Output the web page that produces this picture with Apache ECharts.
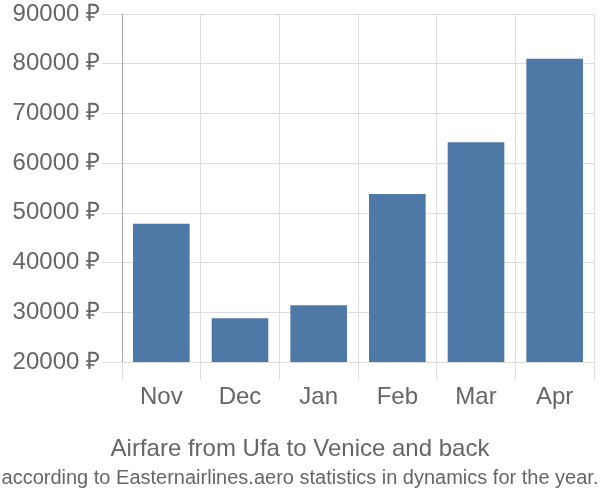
<!DOCTYPE html>
<html>
<head>
<meta charset="utf-8">
<script src="https://cdn.jsdelivr.net/npm/echarts@6/dist/echarts.min.js"></script>
<style>html,body{margin:0;padding:0;background:#fff}#c{width:600px;height:500px}</style>
</head>
<body>
<div id="c"></div>
<script>
var months = ['Nov', 'Dec', 'Jan', 'Feb', 'Mar', 'Apr'];
var prices = [47800, 28800, 31400, 53800, 64200, 81000];
var yMin = 20000, yMax = 90000, yStep = 10000;
var titleText = 'Airfare from Ufa to Venice and back';
var subText = 'according to Easternairlines.aero statistics in dynamics for the year.';

var chart = echarts.init(document.getElementById('c'), null, {renderer: 'canvas'});
chart.setOption({
  animation: false,
  textStyle: {fontFamily: 'Liberation Sans'},
  title: {
    text: titleText,
    subtext: subText,
    left: 'center',
    top: 432,
    itemGap: 7,
    textStyle: {fontSize: 24, fontWeight: 'normal', color: '#666', fontFamily: 'Liberation Sans'},
    subtextStyle: {fontSize: 20, color: '#666', fontFamily: 'Liberation Sans'}
  },
  grid: {left: 122, right: 6, top: 14, bottom: 138, containLabel: false},
  xAxis: {
    type: 'category',
    data: months,
    boundaryGap: true,
    axisLine: {show: false},
    axisTick: {show: true, length: 18, lineStyle: {color: '#ddd', width: 1}},
    splitLine: {show: true, lineStyle: {color: '#ddd', width: 1}},
    axisLabel: {fontSize: 24, color: '#666', margin: 23, fontFamily: 'Liberation Sans'}
  },
  yAxis: {
    type: 'value',
    min: yMin, max: yMax, interval: yStep,
    axisLine: {show: true, lineStyle: {color: '#aaa', width: 1}},
    axisTick: {show: true, length: 20, lineStyle: {color: '#ddd', width: 1}},
    splitLine: {show: true, lineStyle: {color: '#ddd', width: 1}},
    axisLabel: {fontSize: 24, color: '#666', margin: 22, fontFamily: 'Liberation Sans',
      formatter: function (v) { return v + ' ₽'; }}
  },
  series: [{
    type: 'bar',
    data: prices,
    barWidth: '72%',
    itemStyle: {color: '#4e79a7'}
  }]
});
</script>
</body>
</html>
